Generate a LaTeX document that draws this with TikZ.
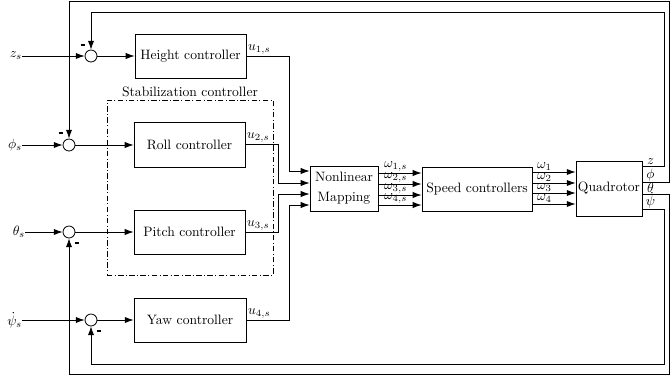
\documentclass[tikz,border=0pt]{standalone}
\usetikzlibrary{arrows.meta}
\begin{document}
\begin{tikzpicture}[x=0.735pt,y=-0.735pt,line width=0.6pt,
  arr/.style={-{Latex[length=6.5pt,width=4.6pt]}},
  blk/.style={draw,inner sep=0pt,minimum width=81.6pt,minimum height=32.3pt},
  sumnode/.style={draw,circle,inner sep=0pt,minimum size=8.8pt},
  inlab/.style={anchor=east,inner sep=0pt,outer sep=0pt},
  ulab/.style={anchor=south west,inner sep=1pt},
  olab/.style={above,inner sep=0.6pt},
  minus/.style={inner sep=0pt}]
\useasboundingbox (0,0) rectangle (670,381);

% helper rows
\coordinate (r166) at (0,166);
\coordinate (r172) at (0,172);
\coordinate (r173) at (0,173);
\coordinate (r182) at (0,182);
\coordinate (r183) at (0,183);
\coordinate (r184) at (0,184);
\coordinate (r193) at (0,193);
\coordinate (r194) at (0,194);
\coordinate (r195) at (0,195);
\coordinate (r204) at (0,204);
\coordinate (r205) at (0,205);
\coordinate (r209) at (0,209);

% reference inputs
\node[inlab] (zs) at (22,56) {$z_s$};
\node[inlab] (phis) at (22,145) {$\phi_s$};
\node[inlab] (thetas) at (25,232) {$\theta_s$};
\node[inlab] (psis) at (22,320) {$\dot\psi_s$};

% summing junctions
\node[sumnode] (sz) at (91,56) {};
\node[sumnode] (sr) at (69,145) {};
\node[sumnode] (sp) at (69,232) {};
\node[sumnode] (sy) at (91,320) {};
\node[minus] (mz) at (83,45) {\rule{3.6pt}{0.9pt}};
\node[minus] (mr) at (61,133) {\rule{3.6pt}{0.9pt}};
\node[minus] (mp) at (77,243) {\rule{3.6pt}{0.9pt}};
\node[minus] (my) at (99,331) {\rule{3.6pt}{0.9pt}};

% controllers
\node[blk] (hc) at (190.5,56) {Height controller};
\node[blk,minimum height=33.1pt] (rc) at (189.5,144.5) {Roll controller};
\node[blk] (pc) at (189.5,232) {Pitch controller};
\node[blk,minimum width=82.3pt] (yc) at (190,320) {Yaw controller};

% stabilization group
\node[draw,inner sep=0pt,minimum width=122pt,minimum height=128.6pt,
      dash pattern=on 4pt off 1.8pt on 0.6pt off 1.8pt] (stab) at (190,187.5) {};
\node[above,inner sep=2pt] (stablab) at (stab.north) {Stabilization controller};

% mapping, speed loop, plant
\node[blk,align=center,minimum width=50pt,minimum height=33.1pt] (nlm) at (344,188.5) {Nonlinear\\[2.7pt]Mapping};
\node[blk,minimum width=80.9pt] (sc) at (477,189) {Speed controllers};
\node[blk,minimum width=48.5pt,minimum height=40.4pt] (quad) at (609,188.5) {Quadrotor};

% inputs into junctions
\draw[arr] (zs) -- (sz);
\draw[arr] (phis) -- (sr);
\draw[arr] (thetas) -- (sp);
\draw[arr] (psis) -- (sy);

% junctions into controllers
\draw[arr] (sz) -- (sz -| hc.west);
\draw[arr] (sr) -- (sr -| rc.west);
\draw[arr] (sp) -- (sp -| pc.west);
\draw[arr] (sy) -- (sy -| yc.west);

% controller outputs into the mapping
\coordinate (b1) at (289,171);
\coordinate (b2) at (278,183);
\coordinate (b3) at (278,194);
\coordinate (b4) at (289,205);
\draw[arr] (hc.east) node[ulab] {$u_{1,s}$} -| (b1) -- (b1 -| nlm.west);
\draw[arr] (rc.east) node[ulab] {$u_{2,s}$} -| (b2) -- (b2 -| nlm.west);
\draw[arr] (pc.east) node[ulab] {$u_{3,s}$} -| (b3) -- (b3 -| nlm.west);
\draw[arr] (yc.east) node[ulab] {$u_{4,s}$} -| (b4) -- (b4 -| nlm.west);

% mapping to speed controllers
\draw[arr] (nlm.east |- r173) -- node[olab,pos=0.4] {$\omega_{1,s}$} (sc.west |- r173);
\draw[arr] (nlm.east |- r184) -- node[olab,pos=0.4] {$\omega_{2,s}$} (sc.west |- r184);
\draw[arr] (nlm.east |- r195) -- node[olab,pos=0.4] {$\omega_{3,s}$} (sc.west |- r195);
\draw[arr] (nlm.east |- r205) -- node[olab,pos=0.4] {$\omega_{4,s}$} (sc.west |- r205);

% speed controllers to quadrotor
\draw[arr] (sc.east |- r172) -- node[olab,pos=0.28] {$\omega_1$} (quad.west |- r172);
\draw[arr] (sc.east |- r183) -- node[olab,pos=0.28] {$\omega_2$} (quad.west |- r183);
\draw[arr] (sc.east |- r193) -- node[olab,pos=0.28] {$\omega_3$} (quad.west |- r193);
\draw[arr] (sc.east |- r204) -- node[olab,pos=0.28] {$\omega_4$} (quad.west |- r204);

% feedback paths
\coordinate (fz) at (664,12);
\coordinate (fphi) at (669,1.5);
\coordinate (fth) at (669,374);
\coordinate (fpsi) at (664,364);
\draw[arr] (quad.east |- r166) -- node[olab,pos=0.38] {$z$} (fz |- r166) -- (fz) -| (sz);
\draw[arr] (quad.east |- r182) -- node[olab,pos=0.3] {$\phi$} (fphi |- r182) -- (fphi) -| (sr);
\draw[arr] (quad.east |- r194) -- node[olab,pos=0.3] {$\theta$} (fth |- r194) -- (fth) -| (sp);
\draw[arr] (quad.east |- r209) -- node[olab,pos=0.38] {$\dot\psi$} (fpsi |- r209) -- (fpsi) -| (sy);
\end{tikzpicture}
\end{document}
